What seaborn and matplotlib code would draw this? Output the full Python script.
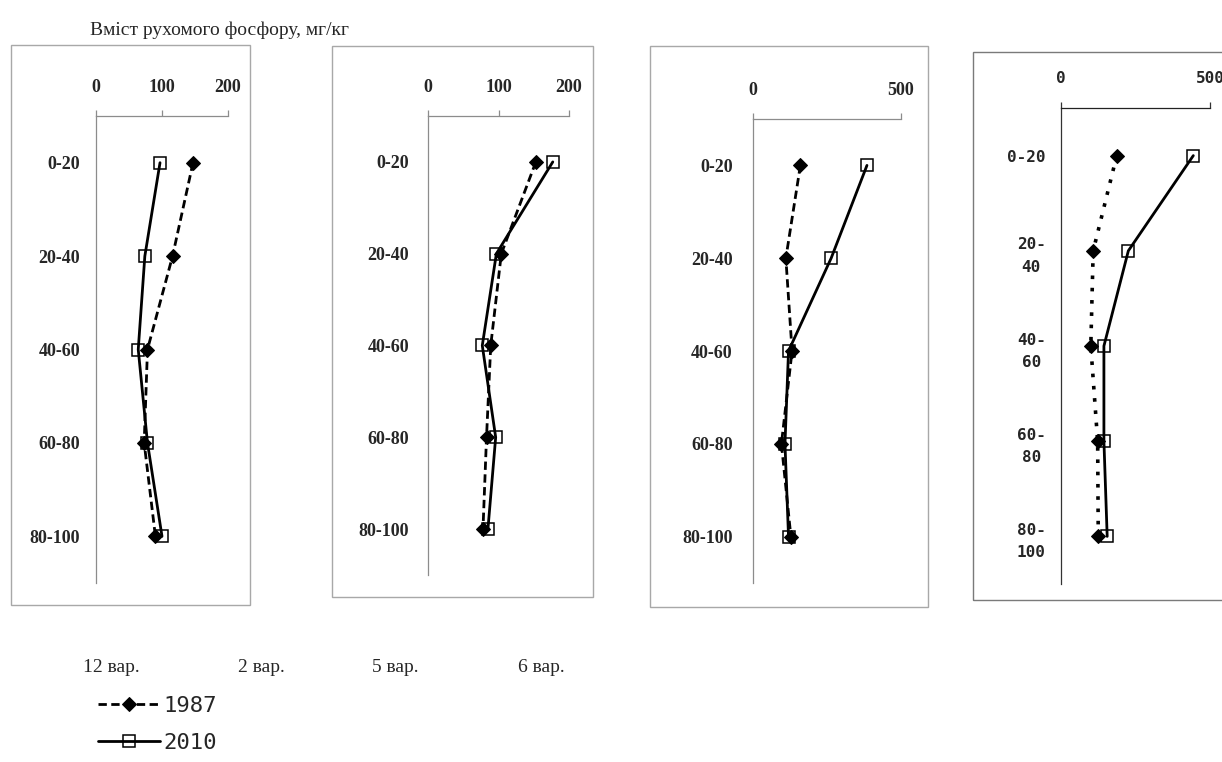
import numpy as np
import pandas as pd
import matplotlib
matplotlib.use("Agg")
import matplotlib.pyplot as plt
from matplotlib.patches import Rectangle
import seaborn as sns

# -------------------------------
# data (mg/kg)
# -------------------------------
depth = ["0-20", "20-40", "40-60", "60-80", "80-100"]
depth_wrapped = ["0-20", "20-\n40", "40-\n60", "60-\n80", "80-\n100"]
variants = ["12 вар.", "2 вар.", "5 вар.", "6 вар."]
years = ["1987", "2010"]

v12_1987 = [147, 116, 78, 73, 90]
v12_2010 = [97, 74, 64, 78, 100]
v2_1987 = [153, 104, 89, 83, 78]
v2_2010 = [177, 97, 77, 96, 85]
v5_1987 = [160, 111, 132, 96, 128]
v5_2010 = [385, 264, 120, 108, 120]
v6_1987 = [187, 108, 100, 123, 125]
v6_2010 = [444, 226, 144, 144, 155]

x_ticks_small = [0, 100, 200]
x_ticks_big = [0, 500]

title = "Вміст рухомого фосфору, мг/кг"

# -------------------------------
# layout (pixels of the 1222x762 picture)
# -------------------------------
W, H = 1222, 762


def fx(px):
    return px / W


def fy(py):
    return 1 - py / H


sns.set_style("white")
fig = plt.figure(figsize=(W / 100, H / 100), dpi=100)

serif = "Liberation Serif"
mono = "DejaVu Sans Mono"

panels = [
    # values 1987, values 2010, ticks, xmax, axes box, frame box, y label pad, pixel font
    (v12_1987, v12_2010, x_ticks_small, 200, (96, 228, 116, 583), (11, 250, 45, 605), 11.5, False),
    (v2_1987, v2_2010, x_ticks_small, 200, (428, 569, 116, 575), (332, 593, 46, 597), 13.5, False),
    (v5_1987, v5_2010, x_ticks_big, 500, (753, 901, 119, 583), (650, 928, 46, 607), 14.5, False),
    (v6_1987, v6_2010, x_ticks_big, 500, (1061, 1210, 108, 584), (973, 1240, 52, 600), 11, True),
]

axes = []
for old, new, ticks, xmax, (ax0, ax1, at, ab), (bx0, bx1, bt, bb), ypad, pixel in panels:
    fig.add_artist(Rectangle((fx(bx0), fy(bb)), (bx1 - bx0) / W, (bb - bt) / H,
                             transform=fig.transFigure, fill=False,
                             ec="#7a7a7a" if pixel else "#a8a8a8", lw=1.0))
    ax = fig.add_axes([fx(ax0), fy(ab), (ax1 - ax0) / W, (ab - at) / H])
    ax.set_facecolor("none")

    df = pd.DataFrame({"depth": depth, "pos": np.arange(len(depth)),
                       "1987": old, "2010": new})

    sns.lineplot(data=df, x="2010", y="pos", sort=False, estimator=None, ax=ax,
                 color="black", lw=2.0, marker="s", ms=9, mfc="none", mec="black",
                 mew=1.1, label="2010", legend=False)
    sns.lineplot(data=df, x="1987", y="pos", sort=False, estimator=None, ax=ax,
                 color="black", lw=2.6 if pixel else 2.0,
                 linestyle=(0, (1, 2.4)) if pixel else (0, (3, 1.6)),
                 marker="D", ms=7, mfc="black", mec="black",
                 label="1987", legend=False)

    ax.set_xlim(0, xmax)
    ax.set_ylim(len(depth) - 0.5, -0.5)
    ax.set_xlabel("")
    ax.set_ylabel("")

    axis_col = "#333333" if pixel else "#8c8c8c"
    for side in ["right", "bottom"]:
        ax.spines[side].set_visible(False)
    for side in ["left", "top"]:
        ax.spines[side].set_color(axis_col)
        ax.spines[side].set_linewidth(0.9)
    ax.spines["top"].set_color("#222222" if pixel else axis_col)

    ax.xaxis.tick_top()
    ax.set_xticks(ticks)
    ax.set_yticks(np.arange(len(depth)))
    ax.set_yticks(np.arange(-0.5, len(depth), 1), minor=True)

    if pixel:
        ax.set_xticklabels([str(t) for t in ticks], family=mono,
                           fontweight="bold", fontsize=11.5)
        ax.set_yticklabels(depth_wrapped, family=mono, fontweight="bold",
                           fontsize=11.5, multialignment="center", linespacing=1.6)
        xpad = 12
    else:
        ax.set_xticklabels([str(t) for t in ticks], family=serif,
                           fontweight="bold", fontsize=13)
        ax.set_yticklabels(depth, family=serif, fontweight="bold", fontsize=13)
        xpad = 10.5

    ax.tick_params(axis="x", which="major", length=4, width=0.9,
                   color=axis_col, pad=xpad, direction="out")
    ax.tick_params(axis="y", which="major", length=0, pad=ypad)
    ax.tick_params(axis="y", which="minor", length=5, width=0.9,
                   color=axis_col, direction="out")
    axes.append(ax)

# -------------------------------
# texts and legend
# -------------------------------
fig.text(fx(90), fy(30), title, family=serif, fontsize=14, va="center", ha="left")

for name, px in zip(variants, [83, 238, 372, 518]):
    fig.text(fx(px), fy(668), name, family=serif, fontsize=14, va="center", ha="left")

line_2010, line_1987 = axes[0].lines[0], axes[0].lines[1]
fig.legend(handles=[line_1987, line_2010], labels=years,
           loc="upper left", bbox_to_anchor=(fx(98), fy(696)),
           frameon=False, prop={"family": mono, "size": 16},
           handlelength=2.8, handletextpad=0.15, borderpad=0,
           borderaxespad=0, labelspacing=0.75)

fig.savefig("out.png", dpi=100)
